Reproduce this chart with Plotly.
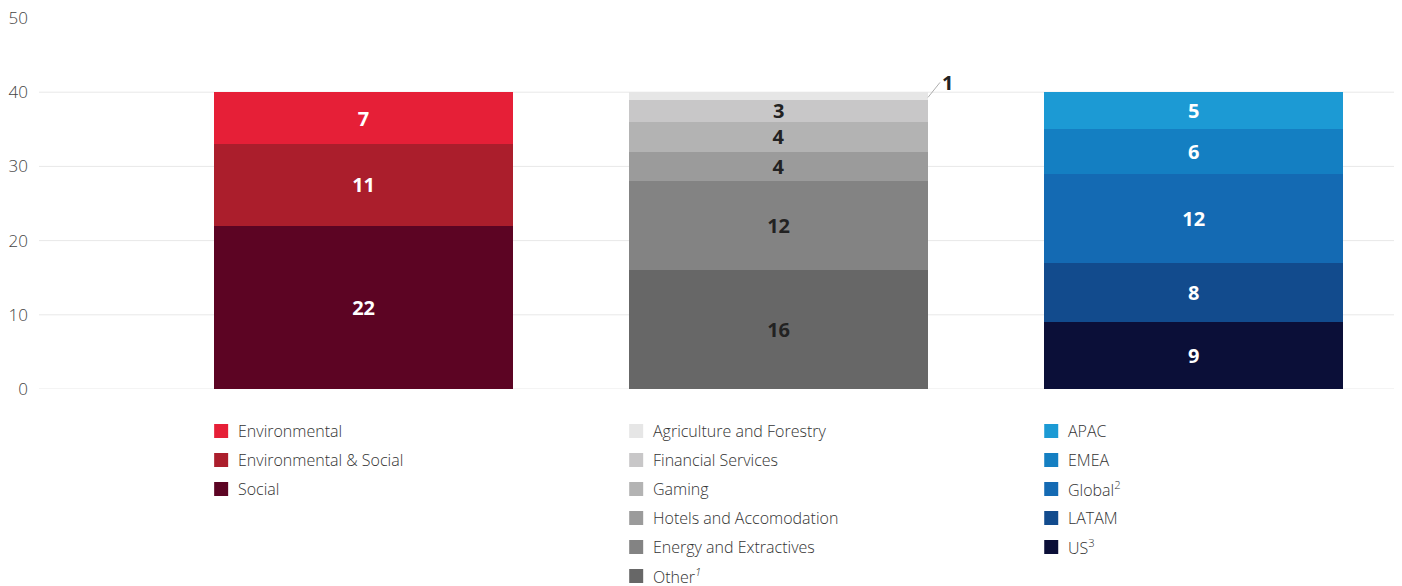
import plotly.graph_objects as go

# ---- data ----
bars = ["By theme", "By sector", "By region"]

theme_names = ["Social", "Environmental & Social", "Environmental"]
theme_values = [22, 11, 7]
theme_colors = ["#5C0423", "#AB1E2C", "#E61F37"]

sector_names = ["Other<sup><i>1</i></sup>", "Energy and Extractives", "Hotels and Accomodation",
                "Gaming", "Financial Services", "Agriculture and Forestry"]
sector_values = [16, 12, 4, 4, 3, 1]
sector_colors = ["#676767", "#838383", "#9B9B9B", "#B3B3B3", "#C8C7C8", "#E6E6E6"]

region_names = ["US<sup>3</sup>", "LATAM", "Global<sup>2</sup>", "EMEA", "APAC"]
region_values = [9, 8, 12, 6, 5]
region_colors = ["#0B0F38", "#124B8D", "#146AB3", "#147FC2", "#1C9AD4"]

y_ticks = [0, 10, 20, 30, 40, 50]
grid_values = [0, 10, 20, 30, 40]

groups = [
    (0, theme_names, theme_values, theme_colors, "white"),
    (1, sector_names, sector_values, sector_colors, "#222222"),
    (2, region_names, region_values, region_colors, "white"),
]

BAR_W = 0.72
fig = go.Figure()

for xi, names, vals, cols, tcol in groups:
    for n, v, c in zip(names, vals, cols):
        show_text = not (xi == 1 and v == 1)
        kw = {}
        if show_text:
            kw = dict(text=[str(v)], textposition="inside", insidetextanchor="middle",
                      textangle=0, constraintext="none",
                      textfont=dict(family="Open Sans", size=20, color=tcol, weight="bold"))
        fig.add_trace(go.Bar(
            x=[xi], y=[v], name=n, width=BAR_W,
            marker=dict(color=c, line=dict(width=0)),
            showlegend=False, hoverinfo="name+y", **kw
        ))

    # custom legend below each bar (top entry first)
    left = xi - BAR_W / 2
    for row, (n, c) in enumerate(zip(names[::-1], cols[::-1])):
        cy = -42 - 29 * row
        fig.add_shape(type="rect", xref="x", yref="paper",
                      xsizemode="pixel", ysizemode="pixel",
                      xanchor=left, yanchor=0,
                      x0=0, x1=14, y0=cy + 7, y1=cy - 7,
                      fillcolor=c, line=dict(width=0))
        fig.add_annotation(xref="x", yref="paper", x=left, y=0,
                           xanchor="left", yanchor="middle",
                           xshift=22, yshift=cy,
                           text=n, showarrow=False,
                           font=dict(family="Open Sans", size=16, color="#333333", weight=300))

# callout for the small segment
fig.add_annotation(xref="x", yref="y", x=1 + BAR_W / 2, y=39.3,
                   ax=12, ay=-15, text="<b>1</b>", showarrow=True,
                   arrowhead=0, arrowwidth=0.8, arrowcolor="#999999",
                   xanchor="left", yanchor="middle", standoff=0,
                   font=dict(family="Open Sans", size=20, color="#222222"))

for g in grid_values:
    fig.add_shape(type="line", xref="paper", yref="y", x0=0, x1=1, y0=g, y1=g,
                  line=dict(color="#E8E8E8", width=1), layer="below")

fig.update_layout(
    barmode="stack",
    width=1394, height=578,
    margin=dict(l=31, r=0, t=10, b=197),
    plot_bgcolor="white", paper_bgcolor="white",
    xaxis=dict(range=[-0.782, 2.502], showticklabels=False, showgrid=False,
               zeroline=False, showline=False, ticks="", automargin=False),
    yaxis=dict(range=[0, 50], tickvals=y_ticks, showgrid=False, zeroline=False,
               showline=False, ticks="", ticklabelstandoff=10,
               ticklabeloverflow="allow", automargin=False,
               tickfont=dict(family="Open Sans", size=17, color="#444444", weight=300)),
    font=dict(family="Open Sans"),
)

fig.write_html("out.html")
